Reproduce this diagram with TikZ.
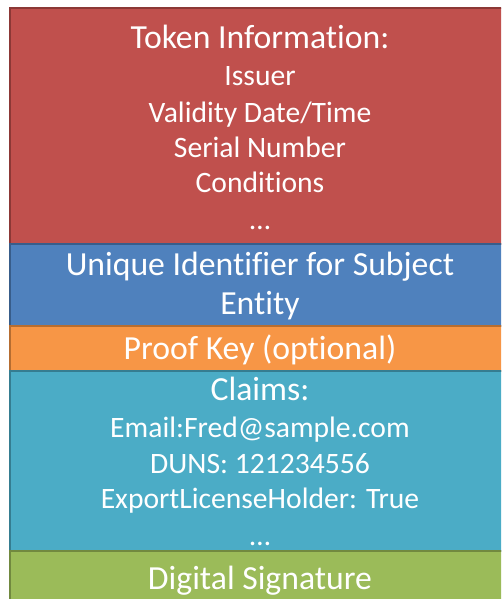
\documentclass[tikz,border=0pt]{standalone}
\usepackage{fontspec}
\setmainfont[Ligatures=NoCommon]{Carlito}
\definecolor{cred}{HTML}{C0504D}\definecolor{bred}{HTML}{8C3836}
\definecolor{cblue}{HTML}{4F81BD}\definecolor{bblue}{HTML}{385D8A}
\definecolor{corange}{HTML}{F79646}\definecolor{borange}{HTML}{B66D31}
\definecolor{ccyan}{HTML}{4BACC6}\definecolor{bcyan}{HTML}{357D91}
\definecolor{cgreen}{HTML}{9BBB59}\definecolor{bgreen}{HTML}{71893F}
\tikzset{
  band/.style={line width=2.5pt},
  big/.style={text=white,font=\fontsize{33.7}{36}\selectfont,inner sep=0pt,anchor=base},
  small/.style={text=white,font=\fontsize{29.6}{32}\selectfont,inner sep=0pt,anchor=base},
}
\begin{document}
\begin{tikzpicture}[x=1pt,y=-1pt]
\useasboundingbox (0,0) rectangle (501,599);
\clip (0,0) rectangle (501,599);
\draw[band,fill=cred,draw=bred] (10,8) rectangle (520,244);
\draw[band,fill=cblue,draw=bblue] (10,244) rectangle (520,326);
\draw[band,fill=corange,draw=borange] (10,326) rectangle (520,371);
\draw[band,fill=ccyan,draw=bcyan] (10,371) rectangle (520,551);
\draw[band,fill=cgreen,draw=bgreen] (10,551) rectangle (520,620);
\node[big] (t1) at (260,49) {Token Information:};
\node[small] (t2) at (260,86) {Issuer};
\node[small] (t3) at (260,122) {Validity Date/Time};
\node[small] (t4) at (260,157) {Serial Number};
\node[small] (t5) at (260,192) {Conditions};
\node[small] (t6) at (260,229) {…};
\node[big] (u1) at (260,275) {Unique Identifier for Subject};
\node[big] (u2) at (260,314) {Entity};
\node[big] (p1) at (260,359) {Proof Key (optional)};
\node[big] (c1) at (260,400) {Claims:};
\node[small] (c2) at (260,437) {Email:Fred@sample.com};
\node[small] (c3) at (260,473) {DUNS: 121234556};
\node[small] (c4) at (260,508) {ExportLicenseHolder: True};
\node[small] (c5) at (260,545) {…};
\node[big] (d1) at (260,589) {Digital Signature};
\end{tikzpicture}
\end{document}
